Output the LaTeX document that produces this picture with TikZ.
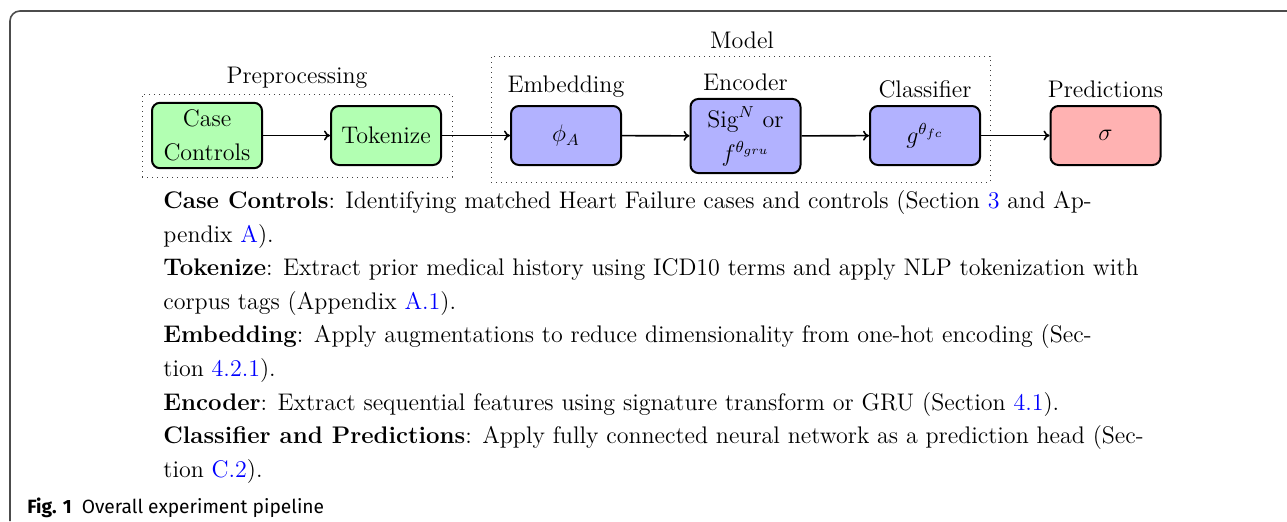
\documentclass[tikz,border=0pt]{standalone}
\usepackage{fontspec}
\newfontfamily\capfont{Fira Sans}
\usetikzlibrary{arrows.meta}
\definecolor{linkblue}{RGB}{0,0,255}
\newcommand{\lk}[1]{\textcolor{linkblue}{#1}}
\begin{document}
\begin{tikzpicture}[x=0.5pt,y=-0.5pt,
  stagebox/.style={draw=black, line width=1pt, rounded corners=4pt,
    minimum width=55pt, minimum height=29.5pt, align=center, inner sep=3.6pt,
    font=\fontsize{12}{16.8}\selectfont},
  grpbox/.style={draw=black!75, dotted, line width=0.5pt},
  stagelbl/.style={anchor=base, font=\fontsize{12}{14}\selectfont},
  txtline/.style={anchor=base west, inner sep=0pt, font=\fontsize{12}{16.8}\selectfont},
  flow/.style={-{To[length=3pt,width=5pt]}, line width=0.8pt}]
\useasboundingbox (0,0) rectangle (1287,521);
% frame
\coordinate (fbl) at (10,521);
\coordinate (ftl) at (10,11);
\coordinate (ftr) at (1287,11);
\draw[black!70, line width=0.8pt, rounded corners=5pt] (fbl) -- (ftl) -- (ftr);
% group boxes
\node[grpbox, minimum width=155pt, minimum height=41.5pt, inner sep=0pt] (pre) at (297,135.5) {};
\node[grpbox, minimum width=249.5pt, minimum height=63pt, inner sep=0pt] (mod) at (740.5,119) {};
\node[stagelbl] (preL) at (297,83) {Preprocessing};
\node[stagelbl] (modL) at (742,48) {Model};
% stages
\node[stagebox, fill=green!30] (cc) at (207,135.5) {Case\\Controls};
\node[stagebox, fill=green!30] (tok) at (386,135.5) {Tokenize};
\node[stagebox, fill=blue!30] (emb) at (566,135.5) {$\phi_A$};
\node[stagebox, fill=blue!30] (enc) at (745.5,136) {$\mathrm{Sig}^N$ or\\$f^{\theta_{gru}}$};
\node[stagebox, fill=blue!30] (cls) at (925,135.5) {$g^{\theta_{fc}}$};
\node[stagebox, fill=red!30] (pred) at (1105.5,135.5) {$\sigma$};
\node[stagelbl] (embL) at (566,92) {Embedding};
\node[stagelbl] (encL) at (745.5,90) {Encoder};
\node[stagelbl] (clsL) at (925,97) {Classifier};
\node[stagelbl] (predL) at (1105.5,97) {Predictions};
% arrows
\draw[flow] (cc) -- (tok);
\draw[flow] (tok) -- (emb);
\draw[flow] (emb) -- (enc);
\draw[flow] (enc) -- (cls);
\draw[flow] (cls) -- (pred);
% description
\node[txtline] (l1) at (163,208.5) {\textbf{Case Controls}: Identifying matched Heart Failure cases and controls (Section \lk{3} and Ap-};
\node[txtline] (l2) at (163,242.1) {pendix \lk{A}).};
\node[txtline] (l3) at (163,275.7) {\textbf{Tokenize}: Extract prior medical history using ICD10 terms and apply NLP tokenization with};
\node[txtline] (l4) at (163,309.3) {corpus tags (Appendix \lk{A.1}).};
\node[txtline] (l5) at (163,342.9) {\textbf{Embedding}: Apply augmentations to reduce dimensionality from one-hot encoding (Sec-};
\node[txtline] (l6) at (163,376.5) {tion \lk{4.2.1}).};
\node[txtline] (l7) at (163,410.1) {\textbf{Encoder}: Extract sequential features using signature transform or GRU (Section \lk{4.1}).};
\node[txtline] (l8) at (163,443.7) {\textbf{Classifier and Predictions}: Apply fully connected neural network as a prediction head (Sec-};
\node[txtline] (l9) at (163,477.3) {tion \lk{C.2}).};
% caption
\node[anchor=base west, inner sep=0pt, font=\capfont\fontsize{9.6}{11}\selectfont] (cap) at (27,513)
  {\textbf{Fig. 1}\hspace{5pt}Overall experiment pipeline};
\end{tikzpicture}
\end{document}
